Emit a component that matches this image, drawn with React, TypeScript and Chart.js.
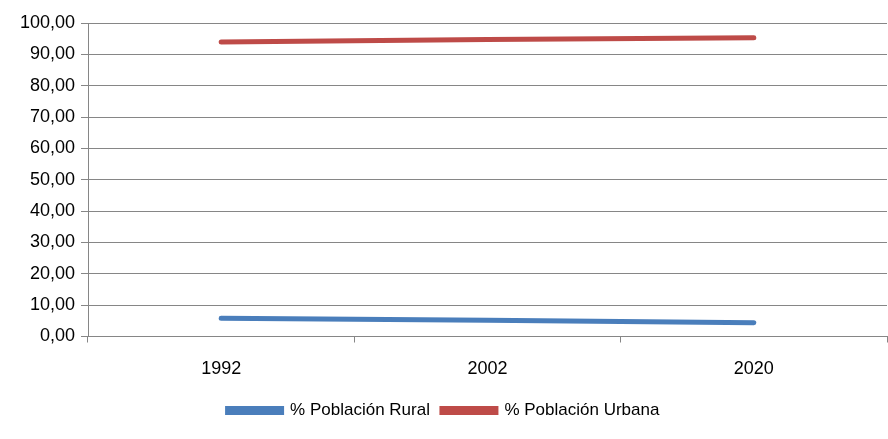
import React, { useEffect, useRef } from "react";
import { Chart, registerables } from "chart.js";

Chart.register(...registerables);

const categories = ["1992", "2002", "2020"];
const ruralValues = [5.85, 5.2, 4.4];
const urbanValues = [93.9, 94.7, 95.3];
const seriesNames = ["% Población Rural", "% Población Urbana"];

const FONT = "'Liberation Sans', Arial, sans-serif";

export default function App() {
  const ref = useRef<HTMLCanvasElement | null>(null);
  useEffect(() => {
    document.body.style.margin = "0";
    const ctx = ref.current!.getContext("2d")!;
    const chart = new Chart(ctx, {
      type: "line",
      data: {
        labels: categories,
        datasets: [
          {
            label: seriesNames[0],
            data: ruralValues,
            borderColor: "#4a7ebb",
            backgroundColor: "#4a7ebb",
            borderWidth: 5,
            borderCapStyle: "round",
            pointRadius: 0,
            tension: 0,
          },
          {
            label: seriesNames[1],
            data: urbanValues,
            borderColor: "#be4b48",
            backgroundColor: "#be4b48",
            borderWidth: 5,
            borderCapStyle: "round",
            pointRadius: 0,
            tension: 0,
          },
        ],
      },
      options: {
        responsive: false,
        animation: false,
        layout: { padding: { top: 23, right: 1, left: 0, bottom: 10 } },
        plugins: {
          tooltip: { enabled: false },
          legend: {
            position: "bottom",
            labels: {
              boxWidth: 54,
              boxHeight: 4,
              padding: 12,
              color: "#000",
              font: { family: FONT, size: 17 },
            },
          },
        },
        scales: {
          x: {
            offset: true,
            grid: {
              offset: true,
              drawOnChartArea: false,
              drawTicks: true,
              tickLength: 6,
              color: "#868686",
            },
            border: { color: "#868686", width: 1 },
            afterFit: (s: any) => {
              s.height = 53.5;
            },
            ticks: { color: "#000", font: { family: FONT, size: 18 }, padding: 16 },
          },
          y: {
            min: 0,
            max: 100,
            grid: { color: "#868686", tickLength: 7 },
            border: { color: "#868686" },
            afterFit: (s: any) => {
              s.width = 88;
            },
            ticks: {
              stepSize: 10,
              color: "#000",
              padding: 6,
              font: { family: FONT, size: 18 },
              callback: (v: any) => Number(v).toFixed(2).replace(".", ","),
            },
          },
        },
      },
    });
    return () => chart.destroy();
  }, []);
  return <canvas ref={ref} width={888} height={439} style={{ display: "block" }} />;
}
